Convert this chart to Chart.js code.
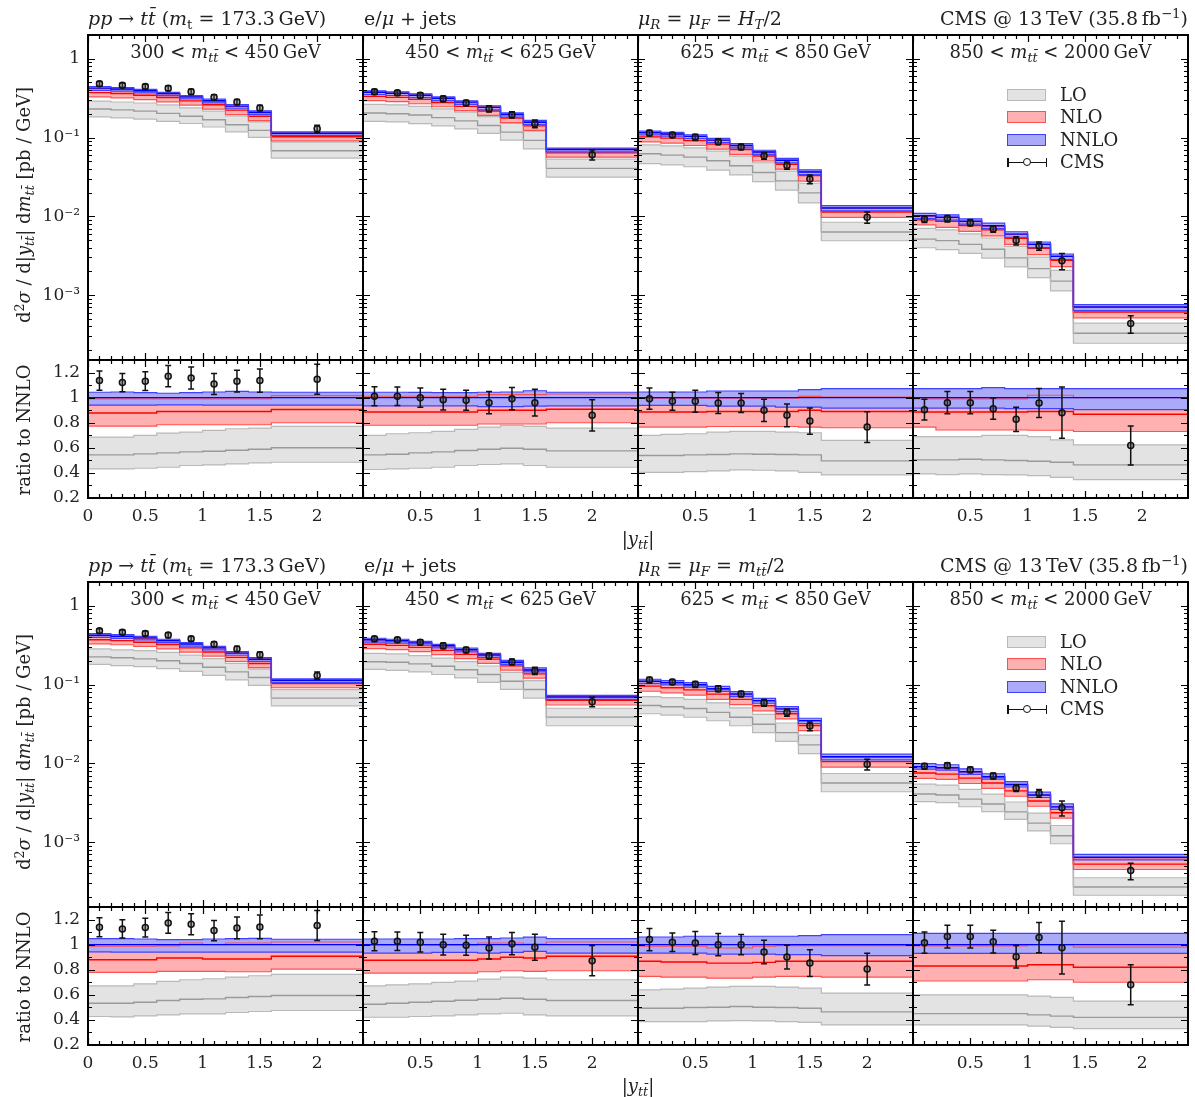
<!DOCTYPE html>
<html>
<head>
<meta charset="utf-8">
<title>ttbar |y| in m_tt slices</title>
<script src="https://cdn.jsdelivr.net/npm/chart.js@4.4.0/dist/chart.umd.min.js"></script>
<style>
  body { margin: 0; background: #fff; }
  #page { position: relative; width: 1195px; height: 1097px; font-family: 'DejaVu Serif', serif; color: #222; overflow: hidden; }
  #page canvas { position: absolute; }
  .txt { position: absolute; font-size: 18px; line-height: 18px; white-space: nowrap; z-index: 5; }
  .txt.big { font-size: 19px; }
  .txt sub { font-size: 70%; vertical-align: -0.3em; line-height: 0; }
  .txt sup { font-size: 70%; vertical-align: 0.5em; line-height: 0; }
  .rot { transform: translate(-50%, -50%) rotate(-90deg); }
  .centre { transform: translateX(-50%); }
  .legend { position: absolute; z-index: 5; font-size: 18px; }
  .legend .row { position: relative; height: 22.3px; }
  .legend .sw { position: absolute; left: 0; top: 4px; width: 37px; height: 10px; border: 1.5px solid; }
  .legend .lab { position: absolute; left: 53px; top: 1px; line-height: 18px; }
  .legend .bar { position: absolute; left: 0; top: 10px; width: 40px; height: 1.5px; background: #111; }
  .legend .cap { position: absolute; top: 6px; width: 1.5px; height: 9px; background: #111; }
  .legend .dot { position: absolute; left: 16px; top: 6px; width: 6px; height: 6px; border: 1.5px solid #111; border-radius: 50%; background: #fff; }
</style>
</head>
<body>
<div id="page"></div>
<script>
// |y_tt| binning of the four m_tt slices
const yEdges = [
  [0, 0.2, 0.4, 0.6, 0.8, 1.0, 1.2, 1.4, 1.6, 2.4],
  [0, 0.2, 0.4, 0.6, 0.8, 1.0, 1.2, 1.4, 1.6, 2.4],
  [0, 0.2, 0.4, 0.6, 0.8, 1.0, 1.2, 1.4, 1.6, 2.4],
  [0, 0.2, 0.4, 0.6, 0.8, 1.0, 1.2, 1.4, 2.4]
];
const yCentres = [
  [0.1, 0.3, 0.5, 0.7, 0.9, 1.1, 1.3, 1.5, 2.0],
  [0.1, 0.3, 0.5, 0.7, 0.9, 1.1, 1.3, 1.5, 2.0],
  [0.1, 0.3, 0.5, 0.7, 0.9, 1.1, 1.3, 1.5, 2.0],
  [0.1, 0.3, 0.5, 0.7, 0.9, 1.1, 1.3, 1.9]
];
const mttEdges = [300, 450, 625, 850, 2000];

// axis ticks
const xMajor = [0, 0.5, 1, 1.5, 2];
const xMinor = [0.1, 0.2, 0.3, 0.4, 0.6, 0.7, 0.8, 0.9, 1.1, 1.2, 1.3, 1.4, 1.6, 1.7, 1.8, 1.9, 2.1, 2.2, 2.3];
const logMajor = [1e-3, 1e-2, 1e-1, 1];
const ratioMajor = [0.2, 0.4, 0.6, 0.8, 1.0, 1.2];
const ratioMinor = [0.3, 0.5, 0.7, 0.9, 1.1];

// ---- scale choice mu_R = mu_F = H_T/2 ----
// NNLO central value [pb/GeV]; everything else is given relative to it
const htNnlo = [
  [0.423, 0.412, 0.392, 0.361, 0.328, 0.293, 0.250, 0.209, 0.113],
  [0.376, 0.365, 0.344, 0.315, 0.281, 0.241, 0.196, 0.156, 0.0704],
  [0.1152, 0.1110, 0.1035, 0.0925, 0.0793, 0.0654, 0.0515, 0.0365, 0.01275],
  [0.01018, 0.00974, 0.00865, 0.00759, 0.00594, 0.00440, 0.00310, 0.000705]
];
const htNnloLo = [
  [0.940, 0.940, 0.940, 0.942, 0.942, 0.940, 0.940, 0.940, 0.940],
  [0.935, 0.935, 0.935, 0.935, 0.935, 0.928, 0.928, 0.932, 0.935],
  [0.939, 0.939, 0.939, 0.933, 0.933, 0.933, 0.925, 0.925, 0.917],
  [0.917, 0.917, 0.917, 0.917, 0.912, 0.912, 0.912, 0.904]
];
const htNnloHi = [
  [1.043, 1.045, 1.040, 1.035, 1.040, 1.045, 1.050, 1.045, 1.043],
  [1.043, 1.043, 1.042, 1.040, 1.040, 1.043, 1.045, 1.055, 1.043],
  [1.045, 1.045, 1.045, 1.053, 1.053, 1.053, 1.053, 1.064, 1.072],
  [1.072, 1.072, 1.072, 1.080, 1.072, 1.072, 1.072, 1.072]
];
const htNloLo = [
  [0.773, 0.773, 0.773, 0.784, 0.784, 0.784, 0.784, 0.784, 0.800],
  [0.780, 0.780, 0.780, 0.780, 0.780, 0.790, 0.790, 0.790, 0.800],
  [0.765, 0.765, 0.765, 0.770, 0.770, 0.770, 0.770, 0.765, 0.760],
  [0.765, 0.742, 0.742, 0.742, 0.742, 0.740, 0.740, 0.730]
];
const htNlo = [
  [0.877, 0.877, 0.877, 0.890, 0.890, 0.890, 0.890, 0.890, 0.905],
  [0.885, 0.885, 0.885, 0.885, 0.885, 0.900, 0.900, 0.900, 0.907],
  [0.885, 0.885, 0.885, 0.890, 0.890, 0.890, 0.890, 0.900, 0.890],
  [0.885, 0.885, 0.885, 0.885, 0.885, 0.890, 0.890, 0.867]
];
const htNloHi = [
  [0.990, 0.990, 0.990, 0.990, 0.990, 0.990, 0.990, 0.990, 1.016],
  [1.011, 1.011, 1.011, 1.011, 1.011, 1.024, 1.024, 1.024, 1.029],
  [0.995, 0.995, 0.995, 0.995, 0.995, 0.995, 0.995, 1.010, 1.005],
  [0.990, 0.990, 0.990, 0.990, 0.990, 1.019, 1.019, 1.000]
];
const htLoLo = [
  [0.432, 0.432, 0.437, 0.445, 0.459, 0.464, 0.472, 0.480, 0.485],
  [0.427, 0.432, 0.437, 0.445, 0.459, 0.467, 0.472, 0.459, 0.445],
  [0.405, 0.405, 0.411, 0.416, 0.424, 0.421, 0.416, 0.405, 0.384],
  [0.392, 0.387, 0.392, 0.387, 0.384, 0.379, 0.365, 0.347]
];
const htLo = [
  [0.544, 0.544, 0.552, 0.560, 0.568, 0.573, 0.581, 0.589, 0.600],
  [0.544, 0.549, 0.560, 0.568, 0.579, 0.589, 0.597, 0.589, 0.576],
  [0.539, 0.539, 0.544, 0.547, 0.552, 0.549, 0.547, 0.544, 0.496],
  [0.504, 0.504, 0.509, 0.504, 0.499, 0.493, 0.485, 0.464]
];
const htLoHi = [
  [0.685, 0.685, 0.699, 0.717, 0.725, 0.739, 0.752, 0.757, 0.771],
  [0.699, 0.712, 0.720, 0.731, 0.747, 0.765, 0.779, 0.771, 0.757],
  [0.699, 0.707, 0.712, 0.725, 0.731, 0.731, 0.725, 0.720, 0.659],
  [0.690, 0.690, 0.690, 0.699, 0.699, 0.690, 0.664, 0.624]
];
const htCms = [
  [1.136, 1.120, 1.131, 1.171, 1.157, 1.109, 1.131, 1.136, 1.147],
  [1.011, 1.011, 1.000, 0.984, 0.979, 0.960, 0.992, 0.960, 0.859],
  [0.992, 0.971, 0.971, 0.957, 0.957, 0.899, 0.859, 0.813, 0.765],
  [0.904, 0.960, 0.960, 0.912, 0.827, 0.957, 0.880, 0.619]
];
const htCmsErr = [
  [0.077, 0.073, 0.075, 0.085, 0.088, 0.084, 0.087, 0.093, 0.120],
  [0.076, 0.073, 0.076, 0.083, 0.080, 0.088, 0.089, 0.107, 0.125],
  [0.085, 0.071, 0.088, 0.084, 0.076, 0.089, 0.091, 0.104, 0.123],
  [0.083, 0.089, 0.089, 0.085, 0.097, 0.116, 0.204, 0.155]
];

// ---- scale choice mu_R = mu_F = m_tt/2 ----
const mtNnlo = [
  [0.421, 0.410, 0.391, 0.361, 0.327, 0.292, 0.250, 0.209, 0.113],
  [0.370, 0.359, 0.338, 0.310, 0.276, 0.237, 0.192, 0.153, 0.0694],
  [0.1099, 0.1058, 0.0992, 0.0885, 0.0759, 0.0625, 0.0491, 0.0348, 0.0121],
  [0.00906, 0.00879, 0.00780, 0.00676, 0.00538, 0.00396, 0.00280, 0.000641]
];
const mtNnloLo = [
  [0.943, 0.941, 0.941, 0.941, 0.941, 0.941, 0.941, 0.941, 0.941],
  [0.933, 0.933, 0.933, 0.939, 0.939, 0.933, 0.939, 0.947, 0.933],
  [0.933, 0.933, 0.933, 0.925, 0.925, 0.925, 0.920, 0.920, 0.912],
  [0.930, 0.930, 0.930, 0.930, 0.930, 0.930, 0.930, 0.930]
];
const mtNnloHi = [
  [1.048, 1.048, 1.045, 1.040, 1.040, 1.045, 1.048, 1.050, 1.043],
  [1.045, 1.045, 1.045, 1.045, 1.048, 1.048, 1.053, 1.060, 1.048],
  [1.061, 1.061, 1.067, 1.067, 1.067, 1.067, 1.067, 1.072, 1.080],
  [1.090, 1.090, 1.090, 1.090, 1.090, 1.090, 1.090, 1.090]
];
const mtNloLo = [
  [0.779, 0.779, 0.779, 0.787, 0.787, 0.787, 0.784, 0.784, 0.805],
  [0.773, 0.773, 0.773, 0.773, 0.773, 0.784, 0.792, 0.787, 0.792],
  [0.747, 0.741, 0.741, 0.733, 0.733, 0.741, 0.747, 0.747, 0.741],
  [0.710, 0.710, 0.710, 0.710, 0.710, 0.720, 0.720, 0.700]
];
const mtNlo = [
  [0.880, 0.880, 0.880, 0.893, 0.893, 0.885, 0.885, 0.885, 0.907],
  [0.875, 0.875, 0.875, 0.875, 0.875, 0.885, 0.899, 0.893, 0.907],
  [0.867, 0.861, 0.861, 0.853, 0.853, 0.859, 0.867, 0.867, 0.867],
  [0.830, 0.830, 0.830, 0.830, 0.830, 0.840, 0.840, 0.820]
];
const mtNloHi = [
  [0.987, 0.987, 0.987, 0.990, 1.013, 1.000, 1.013, 1.013, 1.021],
  [0.995, 0.995, 0.995, 0.995, 0.995, 1.013, 1.013, 1.005, 1.021],
  [0.987, 0.987, 0.987, 0.973, 0.973, 0.987, 0.992, 0.992, 0.992],
  [0.990, 0.990, 0.990, 0.990, 0.990, 1.000, 1.000, 0.980]
];
const mtLoLo = [
  [0.427, 0.424, 0.432, 0.440, 0.448, 0.448, 0.459, 0.467, 0.475],
  [0.421, 0.421, 0.427, 0.432, 0.440, 0.448, 0.453, 0.440, 0.432],
  [0.387, 0.387, 0.387, 0.392, 0.395, 0.392, 0.387, 0.381, 0.360],
  [0.360, 0.360, 0.360, 0.360, 0.360, 0.350, 0.340, 0.330]
];
const mtLo = [
  [0.533, 0.533, 0.541, 0.555, 0.565, 0.568, 0.579, 0.587, 0.595],
  [0.525, 0.533, 0.541, 0.549, 0.557, 0.565, 0.573, 0.565, 0.555],
  [0.493, 0.493, 0.499, 0.501, 0.507, 0.501, 0.499, 0.493, 0.464],
  [0.450, 0.450, 0.450, 0.450, 0.450, 0.440, 0.430, 0.420]
];
const mtLoHi = [
  [0.672, 0.672, 0.688, 0.707, 0.720, 0.728, 0.741, 0.752, 0.763],
  [0.672, 0.680, 0.688, 0.699, 0.709, 0.725, 0.741, 0.733, 0.720],
  [0.640, 0.645, 0.653, 0.661, 0.667, 0.667, 0.661, 0.653, 0.613],
  [0.600, 0.600, 0.600, 0.600, 0.600, 0.590, 0.580, 0.550]
];
const mtCms = [
  [1.139, 1.125, 1.136, 1.173, 1.163, 1.112, 1.133, 1.141, 1.152],
  [1.027, 1.027, 1.019, 1.000, 0.995, 0.973, 1.008, 0.979, 0.872],
  [1.040, 1.019, 1.013, 1.000, 1.000, 0.941, 0.901, 0.853, 0.805],
  [1.016, 1.064, 1.064, 1.024, 0.904, 1.056, 0.976, 0.680]
];
const mtCmsErr = [
  [0.076, 0.073, 0.075, 0.083, 0.084, 0.081, 0.087, 0.095, 0.120],
  [0.075, 0.073, 0.077, 0.083, 0.080, 0.087, 0.089, 0.104, 0.121],
  [0.089, 0.073, 0.091, 0.088, 0.080, 0.093, 0.095, 0.107, 0.127],
  [0.085, 0.090, 0.090, 0.090, 0.090, 0.120, 0.210, 0.160]
];

const halves = [
  { dy: 0, scaleText: '<i>μ<sub>R</sub></i> = <i>μ<sub>F</sub></i> = <i>H<sub>T</sub></i>/2',
    nnlo: htNnlo, nnloLo: htNnloLo, nnloHi: htNnloHi, nloLo: htNloLo, nlo: htNlo, nloHi: htNloHi,
    loLo: htLoLo, lo: htLo, loHi: htLoHi, cms: htCms, cmsErr: htCmsErr },
  { dy: 547, scaleText: '<i>μ<sub>R</sub></i> = <i>μ<sub>F</sub></i> = <i>m<sub>tt̄</sub></i>/2',
    nnlo: mtNnlo, nnloLo: mtNnloLo, nnloHi: mtNnloHi, nloLo: mtNloLo, nlo: mtNlo, nloHi: mtNloHi,
    loLo: mtLoLo, lo: mtLo, loHi: mtLoHi, cms: mtCms, cmsErr: mtCmsErr }
];

const LO_STYLE = { fill: '#e3e3e3', edge: '#b9b9b9', line: '#9a9a9a' };
const NLO_STYLE = { fill: '#ffb0b0', edge: '#ff5050', line: '#ff0000' };
const NNLO_STYLE = { fill: '#aaaaf8', edge: '#4040ff', line: '#0000ff' };

const PLOT_X0 = 88, PLOT_W = 275, MAIN_TOP = 35, MAIN_H = 325, RATIO_H = 138, PAD = 26;
const TICK_FONT = { family: 'DejaVu Serif', size: 17 };
const page = document.getElementById('page');

// inward tick marks on all four sides plus the heavy frame
const frameTicks = {
  id: 'frameTicks',
  afterDraw(chart, args, opts) {
    const { ctx, chartArea: a, scales: { x, y } } = chart;
    ctx.save();
    ctx.strokeStyle = '#000';
    ctx.lineWidth = 1.2;
    const vx = (vals, len) => vals.forEach(v => {
      const p = Math.round(x.getPixelForValue(v)) + 0.5;
      ctx.beginPath();
      ctx.moveTo(p, a.bottom); ctx.lineTo(p, a.bottom - len);
      ctx.moveTo(p, a.top); ctx.lineTo(p, a.top + len);
      ctx.stroke();
    });
    const vy = (vals, len) => vals.forEach(v => {
      const p = Math.round(y.getPixelForValue(v)) + 0.5;
      ctx.beginPath();
      ctx.moveTo(a.left, p); ctx.lineTo(a.left + len, p);
      ctx.moveTo(a.right, p); ctx.lineTo(a.right - len, p);
      ctx.stroke();
    });
    vx(opts.xMajor, 7); vx(opts.xMinor, 4);
    vy(opts.yMajor, 7); vy(opts.yMinor, 4);
    ctx.lineWidth = 2;
    ctx.strokeRect(a.left, a.top, a.right - a.left, a.bottom - a.top);
    ctx.restore();
  }
};

// vertical error bars with caps for datasets carrying an errors array
const errorBars = {
  id: 'errorBars',
  beforeDatasetDraw(chart, args) {
    const ds = chart.data.datasets[args.index];
    if (!ds.errors) return;
    const { ctx, scales: { x, y } } = chart;
    ctx.save();
    ctx.strokeStyle = '#111';
    ctx.lineWidth = 1.5;
    ds.data.forEach((p, i) => {
      const px = x.getPixelForValue(p.x);
      const t = y.getPixelForValue(p.y + ds.errors[i]);
      const b = y.getPixelForValue(p.y - ds.errors[i]);
      ctx.beginPath();
      ctx.moveTo(px, t); ctx.lineTo(px, b);
      ctx.moveTo(px - 3, t); ctx.lineTo(px + 3, t);
      ctx.moveTo(px - 3, b); ctx.lineTo(px + 3, b);
      ctx.stroke();
    });
    ctx.restore();
  }
};

function steps(edges, vals) {
  return edges.map((e, i) => ({ x: e, y: vals[Math.min(i, vals.length - 1)] }));
}

function band(edges, lo, mid, hi, k, style, order) {
  const scaled = a => steps(edges, a.map((v, i) => v * k[i]));
  const line = (data, color, w) => ({
    data, borderColor: color, borderWidth: w, stepped: true, pointRadius: 0, fill: false, order
  });
  return [
    line(scaled(lo), style.edge, 1.2),
    Object.assign(line(scaled(hi), style.edge, 1.2), { fill: '-1', backgroundColor: style.fill }),
    line(scaled(mid), style.line, 1.4)
  ];
}

function addCanvas(left, top, w, h) {
  const c = document.createElement('canvas');
  c.width = w; c.height = h;
  c.style.left = left + 'px';
  c.style.top = top + 'px';
  page.appendChild(c);
  return c;
}

function makePanel(h, col, isRatio) {
  const half = halves[h];
  const k = isRatio ? half.nnlo[col].map(() => 1) : half.nnlo[col];
  const edges = yEdges[col];
  const datasets = [
    ...band(edges, half.loLo[col], half.lo[col], half.loHi[col], k, LO_STYLE, 3),
    ...band(edges, half.nloLo[col], half.nlo[col], half.nloHi[col], k, NLO_STYLE, 2),
    ...band(edges, half.nnloLo[col], half.nnlo[col].map(() => 1), half.nnloHi[col], k, NNLO_STYLE, 1),
    {
      data: yCentres[col].map((c, i) => ({ x: c, y: half.cms[col][i] * k[i] })),
      errors: half.cmsErr[col].map((e, i) => e * k[i]),
      showLine: false, pointRadius: 3, pointBorderWidth: 1.5,
      pointBorderColor: '#111', pointBackgroundColor: 'rgba(70,70,70,0.4)', order: 0
    }
  ];

  const padL = col === 0 ? PLOT_X0 : PAD;
  const padB = isRatio ? 50 : PAD;
  const plotTop = half.dy + MAIN_TOP + (isRatio ? MAIN_H : 0);
  const plotH = isRatio ? RATIO_H : MAIN_H;
  const canvas = addCanvas(PLOT_X0 + col * PLOT_W - padL, plotTop - PAD, padL + PLOT_W + PAD, PAD + plotH + padB);

  const xLabels = col === 0 ? xMajor : xMajor.slice(1);
  const yScale = isRatio ? {
    type: 'linear', min: 0.2, max: 1.3,
    afterBuildTicks: s => { s.ticks = ratioMajor.map(v => ({ value: v })); },
    ticks: { display: col === 0, font: TICK_FONT, color: '#222', padding: 8, autoSkip: false,
             callback: v => String(+v.toFixed(1)) }
  } : {
    type: 'logarithmic', min: 1.5e-4, max: 2,
    afterBuildTicks: s => { s.ticks = logMajor.map(v => ({ value: v })); },
    ticks: { display: col === 0, font: TICK_FONT, color: '#222', padding: 8, autoSkip: false,
             callback: v => v === 1 ? '1' : '10' + { '-1': '⁻¹', '-2': '⁻²', '-3': '⁻³' }[Math.round(Math.log10(v))] }
  };
  yScale.grid = { display: false, drawTicks: false };
  yScale.border = { display: false };
  yScale.afterFit = s => { s.width = padL; };

  const yMinor = [];
  if (isRatio) yMinor.push(...ratioMinor);
  else for (let e = -4; e <= 0; e++) for (let m = 2; m <= 9; m++) {
    const v = m * Math.pow(10, e);
    if (v > 1.5e-4 && v < 2) yMinor.push(v);
  }

  new Chart(canvas, {
    type: 'line',
    data: { datasets },
    plugins: [errorBars, frameTicks],
    options: {
      responsive: false,
      animation: false,
      events: [],
      layout: { padding: { left: 0, top: PAD, right: PAD, bottom: 0 } },
      plugins: {
        legend: { display: false },
        tooltip: { enabled: false },
        filler: { drawTime: 'beforeDatasetsDraw' },
        frameTicks: { xMajor, xMinor, yMajor: isRatio ? ratioMajor : logMajor, yMinor }
      },
      scales: {
        x: {
          type: 'linear', min: 0, max: 2.4,
          afterBuildTicks: s => { s.ticks = xLabels.map(v => ({ value: v })); },
          ticks: { display: isRatio, font: TICK_FONT, color: '#222', padding: 8, maxRotation: 0, autoSkip: false,
                   callback: v => String(+v.toFixed(1)) },
          grid: { display: false, drawTicks: false },
          border: { display: false },
          afterFit: s => { s.height = padB; }
        },
        y: yScale
      }
    }
  });
}

function addText(html, style, cls) {
  const d = document.createElement('div');
  d.className = 'txt' + (cls ? ' ' + cls : '');
  d.innerHTML = html;
  Object.assign(d.style, style);
  page.appendChild(d);
}

function addLegend(left, top) {
  const box = document.createElement('div');
  box.className = 'legend';
  box.style.left = left + 'px';
  box.style.top = top + 'px';
  const items = [['LO', LO_STYLE], ['NLO', NLO_STYLE], ['NNLO', NNLO_STYLE], ['CMS', null]];
  items.forEach(([label, st]) => {
    const row = document.createElement('div');
    row.className = 'row';
    row.innerHTML = st
      ? `<div class="sw" style="background:${st.fill};border-color:${st.edge}"></div><div class="lab">${label}</div>`
      : `<div class="bar"></div><div class="cap" style="left:0"></div><div class="cap" style="left:38.5px"></div>` +
        `<div class="dot"></div><div class="lab">${label}</div>`;
    box.appendChild(row);
  });
  page.appendChild(box);
}

const mtt = '<i>m</i><sub><i>tt̄</i></sub>';

halves.forEach((half, h) => {
  for (let col = 0; col < 4; col++) {
    makePanel(h, col, false);
    makePanel(h, col, true);
    addText(`${mttEdges[col]} &lt; ${mtt} &lt; ${mttEdges[col + 1]}&#8201;GeV`,
      { left: (PLOT_X0 + col * PLOT_W + PLOT_W / 2) + 'px', top: (half.dy + 43) + 'px' }, 'centre');
  }
  const ty = (half.dy + 9) + 'px';
  addText('<i>pp</i> → <i>tt̄</i> (<i>m</i><sub>t</sub> = 173.3&#8201;GeV)', { left: '88px', top: ty }, 'big');
  addText('e/<i>μ</i> + jets', { left: '364px', top: ty }, 'big');
  addText(half.scaleText, { left: '638px', top: ty }, 'big');
  addText('CMS @ 13&#8201;TeV (35.8&#8201;fb<sup>−1</sup>)', { right: '7px', top: ty }, 'big');

  addText(`d<sup>2</sup><i>σ</i> / d|<i>y</i><sub><i>tt̄</i></sub>| d${mtt} [pb / GeV]`,
    { left: '24px', top: (half.dy + 205) + 'px' }, 'rot');
  addText('ratio to NNLO', { left: '24px', top: (half.dy + 430) + 'px' }, 'rot');
  addText('|<i>y</i><sub><i>tt̄</i></sub>|', { left: '638px', top: (half.dy + 530) + 'px' }, 'centre');

  addLegend(1007, half.dy + 85);
});
</script>
</body>
</html>
